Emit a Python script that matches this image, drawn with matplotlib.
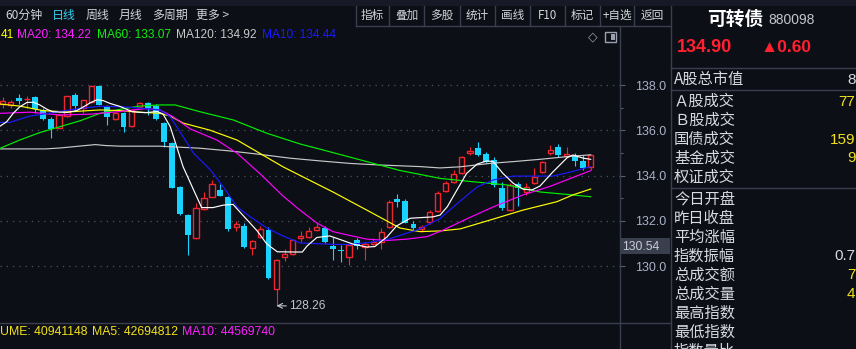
import numpy as np
import matplotlib
matplotlib.use("Agg")
import matplotlib.pyplot as plt
from matplotlib.patches import Rectangle

# 可转债 880098, daily candles, oldest first
opens = [137.15, 137.12, 137.41, 137.37, 137.46, 136.90, 136.50, 136.12, 136.63, 137.56,
         136.97, 137.26, 137.97, 137.02, 136.50, 136.75, 136.20, 137.05, 137.19, 137.09,
         136.31, 135.43, 133.51, 132.26, 131.23, 132.53, 133.07, 133.37, 133.07, 131.72,
         131.79, 130.79, 131.31, 131.60, 128.98, 130.40, 130.53, 131.23, 131.31, 131.58,
         131.70, 130.90, 130.72, 130.43, 131.16, 130.87, 130.98, 131.09, 131.72, 132.96,
         132.88, 131.87, 131.63, 131.94, 132.44, 133.34, 133.74, 134.10, 134.99, 135.21,
         134.96, 134.69, 133.44, 132.48, 133.62, 133.30, 133.67, 134.18, 135.01, 135.25,
         134.87, 134.88, 134.65, 134.37]
highs = [137.46, 137.34, 137.60, 137.51, 137.51, 136.97, 136.57, 136.75, 137.53, 137.63,
         137.36, 137.98, 138.00, 137.12, 136.80, 136.80, 136.95, 137.25, 137.25, 137.16,
         136.35, 135.50, 133.55, 132.30, 132.78, 133.26, 133.80, 133.63, 133.10, 132.00,
         131.90, 131.15, 131.78, 131.75, 130.30, 130.75, 131.20, 131.56, 131.75, 131.90,
         131.77, 131.28, 130.94, 130.96, 131.26, 131.07, 131.26, 131.69, 132.92, 133.19,
         132.97, 132.00, 131.82, 132.48, 133.32, 133.76, 134.25, 134.87, 135.25, 135.47,
         135.04, 134.84, 133.73, 133.68, 133.73, 133.69, 134.32, 134.65, 135.35, 135.40,
         135.25, 135.01, 134.91, 134.91]
lows = [136.97, 136.99, 137.16, 136.98, 136.78, 136.46, 135.67, 136.10, 136.59, 136.90,
        136.76, 137.20, 137.10, 136.23, 136.45, 135.94, 136.15, 137.00, 136.68, 136.45,
        135.28, 133.45, 132.25, 130.50, 131.20, 132.50, 133.05, 133.08, 131.57, 131.57,
        130.80, 130.50, 131.23, 129.44, 128.26, 130.25, 130.50, 131.08, 131.25, 131.54,
        131.02, 130.28, 130.17, 130.06, 130.75, 130.28, 130.94, 130.75, 131.69, 132.63,
        131.89, 131.56, 131.53, 131.87, 132.40, 133.28, 133.68, 134.07, 134.91, 134.87,
        134.54, 133.51, 132.48, 132.44, 132.66, 133.15, 133.63, 134.12, 134.91, 134.84,
        134.84, 134.43, 134.25, 134.25]
closes = [137.29, 137.26, 137.29, 137.40, 136.93, 136.50, 136.06, 136.68, 137.51, 137.09,
          137.34, 137.96, 137.12, 136.60, 136.75, 136.16, 136.90, 137.19, 137.00, 136.50,
          135.50, 133.47, 132.31, 131.38, 132.56, 133.00, 133.62, 133.10, 131.64, 131.87,
          130.86, 131.12, 131.63, 129.50, 130.28, 130.54, 131.16, 131.33, 131.56, 131.72,
          131.09, 130.75, 130.66, 130.94, 130.90, 130.97, 131.09, 131.53, 132.82, 132.82,
          131.92, 131.70, 131.75, 132.38, 133.22, 133.66, 134.06, 134.81, 135.09, 134.91,
          134.62, 133.59, 132.56, 133.59, 133.44, 133.51, 133.95, 134.59, 135.13, 134.91,
          134.96, 134.66, 134.33, 134.90]

# moving average lines: candle index -> value
ma5_x = [-0.3, 0.5, 1.3, 2.1, 3.0, 3.8, 4.6, 5.5, 6.2, 8.0, 9.2, 10.0, 10.9, 11.7, 12.5, 13.3,
         14.6, 16.1, 17.7, 19.2, 19.9, 20.8, 21.6, 22.4, 23.7, 24.7, 26.1, 27.4, 28.6, 29.8,
         31.6, 32.8, 34.1, 36.1, 37.2, 37.8, 39.0, 40.6, 41.9, 43.5, 45.2, 46.2, 47.7, 48.9,
         50.6, 53.4, 54.3, 55.2, 56.4, 57.6, 58.9, 60.1, 60.9, 62.1, 63.4, 64.6, 65.7, 66.7,
         68.3, 70.1, 70.8, 72.1, 73.0]
ma5_y = [136.19, 136.38, 136.75, 137.03, 137.23, 137.24, 137.12, 136.93, 136.82, 136.79,
         136.87, 137.03, 137.22, 137.35, 137.31, 137.19, 137.05, 136.82, 136.78, 136.83,
         136.72, 136.16, 135.28, 134.39, 133.37, 132.59, 132.59, 132.70, 132.73, 132.26,
         131.56, 130.98, 130.64, 130.63, 130.63, 130.90, 131.27, 131.34, 131.18, 130.98,
         130.85, 130.87, 131.29, 131.78, 132.12, 132.18, 132.26, 132.63, 133.37, 134.10,
         134.51, 134.65, 134.62, 134.10, 133.66, 133.40, 133.37, 133.54, 134.16, 134.80,
         134.91, 134.77, 134.72]
ma10_x = [-0.3, 0.9, 2.1, 3.4, 4.6, 6.7, 9.6, 12.1, 14.9, 17.4, 19.5, 20.8, 22.4, 23.7, 25.8,
          27.4, 29.1, 30.7, 32.8, 34.8, 36.9, 41.0, 43.1, 45.6, 47.7, 49.3, 51.8, 54.3, 56.8,
          58.9, 60.9, 63.4, 65.9, 68.3, 70.5, 73.0]
ma10_y = [136.35, 136.35, 136.49, 136.63, 136.69, 136.81, 136.97, 137.06, 137.04, 136.97,
          136.90, 136.60, 135.72, 134.99, 134.25, 133.50, 132.62, 132.19, 131.69, 131.34,
          131.03, 130.97, 130.96, 131.06, 131.18, 131.36, 131.65, 132.11, 132.88, 133.50,
          133.81, 133.98, 133.98, 133.98, 134.16, 134.40]
ma20_x = [-0.3, 3.4, 7.1, 10.8, 14.6, 17.7, 19.5, 21.0, 23.3, 26.6, 29.1, 31.9, 34.8, 36.9,
          39.0, 41.0, 43.1, 45.2, 47.7, 50.2, 52.7, 54.7, 57.6, 60.9, 64.6, 67.9, 70.8, 73.0]
ma20_y = [136.75, 136.80, 136.68, 136.71, 136.83, 136.96, 136.90, 136.63, 136.06, 135.57,
          134.99, 134.10, 133.10, 132.48, 131.91, 131.53, 131.36, 131.20, 131.14, 131.20,
          131.31, 131.60, 132.09, 132.62, 133.15, 133.52, 133.92, 134.22]
ma30_x = [-0.3, 2.1, 5.0, 8.0, 12.1, 14.6, 17.0, 19.5, 20.8, 22.4, 25.7, 29.1, 31.9, 34.8,
          38.2, 41.0, 43.1, 45.2, 47.7, 49.3, 51.8, 54.3, 56.8, 60.5, 64.6, 68.8, 70.8, 73.0]
ma30_y = [137.16, 137.07, 136.87, 136.81, 136.90, 136.87, 136.80, 136.75, 136.63, 136.32,
          136.01, 135.57, 134.99, 134.39, 133.78, 133.28, 132.88, 132.48, 132.00, 131.69,
          131.53, 131.56, 131.65, 132.04, 132.48, 132.85, 133.15, 133.41]
ma60_x = [-0.3, 2.1, 4.6, 7.1, 9.6, 12.1, 14.6, 17.0, 19.5, 21.4, 24.5, 28.6, 32.8, 36.9,
          39.8, 45.2, 49.3, 54.3, 58.4, 62.6, 66.7, 70.1, 73.0]
ma60_y = [135.21, 135.57, 135.90, 136.16, 136.42, 136.75, 136.93, 137.07, 137.12, 137.12,
          136.82, 136.46, 135.87, 135.40, 135.13, 134.62, 134.23, 133.88, 133.73, 133.59,
          133.28, 133.17, 133.07]
ma120_x = [-0.3, 5.3, 7.1, 11.5, 12.7, 14.6, 19.5, 24.5, 28.2, 31.9, 35.7, 39.4, 43.1, 46.8,
           51.8, 54.3, 56.8, 60.5, 63.4, 66.7, 70.1, 73.0]
ma120_y = [135.18, 135.18, 135.22, 135.37, 135.33, 135.30, 135.30, 135.21, 135.09, 134.94,
           134.77, 134.65, 134.54, 134.47, 134.40, 134.34, 134.39, 134.54, 134.62, 134.72,
           134.84, 134.92]

price_ticks = [130, 132, 134, 136, 138]
minor_ticks = [131, 133, 135, 137]
cursor_price = "130.54"
prev_close = 134.30

ma_labels = ["41", "MA20: 134.22", "MA60: 133.07", "MA120: 134.92", "MA10: 134.44"]
vol_labels = ["UME: 40941148", "MA5: 42694812", "MA10: 44569740"]
tabs = ["60分钟", "日线", "周线", "月线", "多周期", "更多 >"]
buttons = ["指标", "叠加", "多股", "统计", "画线", "F10", "标记", "+自选", "返回"]
panel_rows_a = ["Ａ股成交", "Ｂ股成交", "国债成交", "基金成交", "权证成交"]
panel_vals_a = ["77", "", "159", "9", ""]
panel_rows_b = ["今日开盘", "昨日收盘", "平均涨幅", "指数振幅", "总成交额",
                "总成交量", "最高指数", "最低指数", "指数量比"]
panel_vals_b = ["", "", "", "0.7", "7", "4", "", "", ""]

W, H = 856, 349
BG = "#0d0f17"
UP = "#f0262e"
DOWN = "#19d3ff"
SEP = "#3a3e4e"
LATIN = "Liberation Sans"
YELLOW = "#f2e21c"
PANEL = "#d8dae2"

plt.rcParams['font.family'] = ['Noto Sans CJK SC', 'DejaVu Sans']

fig = plt.figure(figsize=(W / 100, H / 100), dpi=100, facecolor=BG)

# price pane
ax = fig.add_axes([0, (H - 323.3) / H, 620 / W, (323.3 - 25.7) / H], facecolor=BG)

o = np.array(opens)
c = np.array(closes)
hi = np.array(highs)
lo = np.array(lows)
idx = np.arange(len(c))
up = c >= o
dn = ~up

ax.vlines(idx[dn], lo[dn], hi[dn], color=DOWN, lw=0.8, zorder=2)
ax.vlines(idx[up], lo[up], o[up], color=UP, lw=0.8, zorder=2)
ax.vlines(idx[up], c[up], hi[up], color=UP, lw=0.8, zorder=2)
body = np.maximum(np.abs(c - o), 0.03)
ax.bar(idx[dn], body[dn], bottom=c[dn], width=0.74, color=DOWN, lw=0, zorder=3)
ax.bar(idx[up], body[up], bottom=o[up], width=0.66, facecolor=BG, edgecolor=UP,
       lw=1.0, zorder=3)

ma_lines = [(ma120_x, ma120_y, "#c8c8c8"), (ma60_x, ma60_y, "#00f000"),
            (ma30_x, ma30_y, "#ffff00"), (ma20_x, ma20_y, "#ff00ff"),
            (ma10_x, ma10_y, "#1a1aff"), (ma5_x, ma5_y, "#ffffff")]
for xs, ys, col in ma_lines:
    ax.plot(xs, ys, color=col, lw=0.85, zorder=4)

low_i = int(np.argmin(lo))
ax.annotate(f"{lo[low_i]:.2f}", xy=(low_i, lo[low_i]), xytext=(9, -0.5),
            textcoords='offset points', ha='left', va='center', color='#c0c4d0',
            fontsize=8.6, fontfamily=LATIN,
            arrowprops=dict(arrowstyle='->', color='#c0c4d0', lw=0.8,
                            shrinkA=0, shrinkB=0))

ax.set_xlim(-0.335, 76.64)
ax.set_ylim(127.484, 140.617)
ax.set_xticks([])
ax.yaxis.tick_right()
ax.set_yticks(price_ticks)
ax.set_yticklabels([f"{p:.1f}" for p in price_ticks], fontfamily=LATIN)
ax.set_yticks(minor_ticks, minor=True)
ax.tick_params(axis='y', which='major', length=3.6, width=0.8, color='#5a6072',
               pad=7.5, labelsize=9, labelcolor='#a9b1c6')
ax.tick_params(axis='y', which='minor', length=2, width=0.8, color='#5a6072')
ax.yaxis.grid(True, which='major', color='#4e5466', lw=0.9, ls=(0, (1, 4)))
ax.set_axisbelow(True)
for s in ['left', 'top']:
    ax.spines[s].set_visible(False)
for s in ['right', 'bottom']:
    ax.spines[s].set_color(SEP)
    ax.spines[s].set_linewidth(1)

# overlay in pixel coordinates for the surrounding UI
ui = fig.add_axes([0, 0, 1, 1])
ui.set_xlim(0, W)
ui.set_ylim(H, 0)
ui.axis('off')
ui.patch.set_visible(False)

ui.add_patch(Rectangle((0, 0), W, 6, color='#171a26', lw=0))

tab_x = [5, 52, 86, 119, 152, 196]
for t, x in zip(tabs, tab_x):
    col = '#36cdf0' if t == "日线" else '#d2d4dc'
    ui.text(x, 15.5, t, color=col, fontsize=8.6, ha='left', va='center')

seps = [356, 389, 424, 460, 495, 530, 565, 600, 634, 671]
for x in seps[:-1]:
    ui.plot([x, x], [6, 25.7], color=SEP, lw=1)
ui.plot([356, 671], [25.7, 25.7], color=SEP, lw=1)
for b, x0, x1 in zip(buttons, seps[:-1], seps[1:]):
    ui.text((x0 + x1) / 2, 15.5, b, color='#d2d4dc', fontsize=8.4, ha='center', va='center')

# legend row of the price pane
for lab, x, col in zip(ma_labels, [0.5, 17.3, 96.7, 175.7, 261.7],
                       ["#ffff00", "#ff20ff", "#10ee10", "#c8c8c8", "#1a1aff"]):
    ui.text(x, 35, lab, color=col, fontsize=8.6, fontfamily=LATIN, ha='left', va='center')
ui.text(592.5, 36.5, "◇", color='#9aa0b0', fontsize=9, ha='center', va='center',
        family=['DejaVu Sans'])
ui.add_patch(Rectangle((605.5, 31.7), 11, 10, fill=False, edgecolor='#9aa0b0', lw=1))
ui.add_patch(Rectangle((611, 33.5), 4, 6.5, color='#9aa0b0', lw=0))

# cursor price box on the axis
ui.add_patch(Rectangle((620, 238), 50, 16, color='#3a3f4e', lw=0))
ui.text(622, 246.5, cursor_price, color='#c8ccd8', fontsize=8.8, fontfamily=LATIN,
        ha='left', va='center')

# separators around the panes
ui.plot([620, 620], [323.3, H], color=SEP, lw=1)
ui.plot([620, 671], [323.3, 323.3], color=SEP, lw=1)
ui.plot([671, 671], [6, H], color=SEP, lw=1)
for y in [68.3, 90, 187.7]:
    ui.plot([671, W], [y, y], color=SEP, lw=1)

# volume legend
ui.text(0.5, 331.7, vol_labels[0], color=YELLOW, fontsize=8.8, fontfamily=LATIN,
        ha='left', va='center')
ui.text(91.7, 331.7, vol_labels[1], color=YELLOW, fontsize=8.8, fontfamily=LATIN,
        ha='left', va='center')
ui.text(181.7, 331.7, vol_labels[2], color='#ff20ff', fontsize=8.8, fontfamily=LATIN,
        ha='left', va='center')

# right info panel
ui.text(707, 19, "可转债", color='#ffffff', fontsize=13.5, fontweight='bold',
        ha='left', va='center')
ui.text(768, 20.5, "880098", color='#c4c6ce', fontsize=10, fontfamily=LATIN,
        ha='left', va='center')
ui.text(677, 48, f"{closes[-1]:.2f}", color='#ff2030', fontsize=13, fontweight='bold',
        fontfamily=LATIN, ha='left', va='center')
ui.text(760, 48, f"▲{closes[-1] - prev_close:.2f}", color='#ff2030', fontsize=12.5,
        fontweight='bold', family=[LATIN, 'DejaVu Sans'], ha='left', va='center')

ui.text(674, 79.5, "A股总市值", color=PANEL, fontsize=11, ha='left', va='center')
ui.text(855.5, 79.5, "8", color=PANEL, fontsize=11, fontfamily=LATIN, ha='right',
        va='center')
for k, (lab, val) in enumerate(zip(panel_rows_a, panel_vals_a)):
    y = 101.7 + k * 18.9
    ui.text(674, y, lab, color=PANEL, fontsize=11, ha='left', va='center')
    if val:
        ui.text(855.5, y, val, color=YELLOW, fontsize=11, fontfamily=LATIN,
                ha='right', va='center')
for k, (lab, val) in enumerate(zip(panel_rows_b, panel_vals_b)):
    y = 199.3 + k * 18.95
    ui.text(674, y, lab, color=PANEL, fontsize=11, ha='left', va='center')
    if val:
        col = PANEL if '.' in val else YELLOW
        ui.text(855.5, y, val, color=col, fontsize=11, fontfamily=LATIN,
                ha='right', va='center')

fig.savefig("out.png", dpi=100, facecolor=BG)
